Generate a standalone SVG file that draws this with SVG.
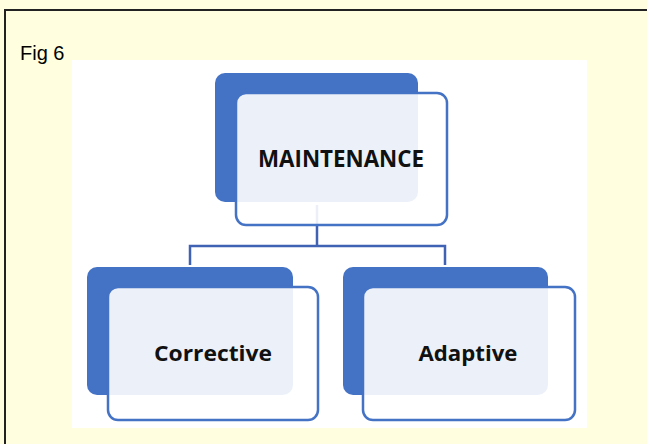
<svg xmlns="http://www.w3.org/2000/svg" width="647" height="444" viewBox="0 0 647 444">
  <style>
    .back { fill: #4472C4; }
    .front { fill: #ffffff; fill-opacity: 0.9; stroke: #4472C4; stroke-width: 2.5; }
    .lbl { font-family: "Open Sans", "Liberation Sans", sans-serif; font-weight: bold; fill: #111111; text-anchor: middle; }
    .conn { fill: none; stroke: #3F62B5; stroke-width: 2.5; }
  </style>
  <rect x="0" y="0" width="647" height="444" fill="#FFFFE0"/>
  <path d="M5 444 V10 H647" fill="none" stroke="#222222" stroke-width="2"/>
  <text x="20" y="60" font-family="Liberation Sans, Arial, sans-serif" font-size="20" fill="#000000">Fig 6</text>
  <rect x="72" y="60" width="515" height="368" fill="#ffffff"/>
  <g id="connectors">
    <path class="conn" d="M317 205 V246 M190 265 V246 H445 V265"/>
  </g>
  <g id="node-maintenance">
    <rect class="back" x="215" y="73" width="203" height="129" rx="10"/>
    <rect class="front" x="236" y="93" width="211" height="132" rx="10"/>
    <text class="lbl" x="341" y="167" font-size="23" textLength="166" lengthAdjust="spacingAndGlyphs">MAINTENANCE</text>
  </g>
  <g id="node-corrective">
    <rect class="back" x="87" y="267" width="206" height="128" rx="10"/>
    <rect class="front" x="108" y="287" width="210" height="133" rx="10"/>
    <text class="lbl" x="213" y="361" font-size="22" textLength="118" lengthAdjust="spacingAndGlyphs">Corrective</text>
  </g>
  <g id="node-adaptive">
    <rect class="back" x="343" y="267" width="205" height="128" rx="10"/>
    <rect class="front" x="363" y="287" width="212" height="133" rx="10"/>
    <text class="lbl" x="468" y="361" font-size="22" textLength="99" lengthAdjust="spacingAndGlyphs">Adaptive</text>
  </g>
</svg>
